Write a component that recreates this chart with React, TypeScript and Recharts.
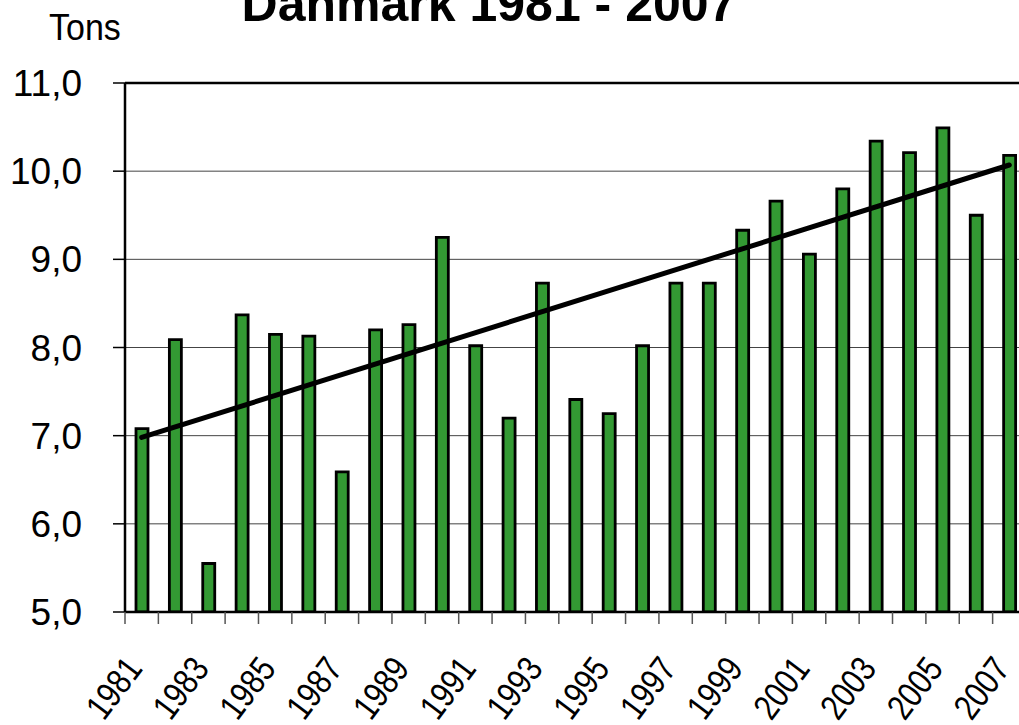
import React from 'react';
import { ComposedChart, Bar, Line, XAxis, YAxis, CartesianGrid, ReferenceLine } from 'recharts';

const years = ['1981','1982','1983','1984','1985','1986','1987','1988','1989','1990','1991','1992','1993','1994','1995','1996','1997','1998','1999','2000','2001','2002','2003','2004','2005','2006','2007'];
const tons = [7.08, 8.09, 5.55, 8.37, 8.15, 8.13, 6.59, 8.2, 8.26, 9.25, 8.02, 7.2, 8.73, 7.41, 7.25, 8.02, 8.73, 8.73, 9.33, 9.66, 9.06, 9.8, 10.34, 10.21, 10.49, 9.5, 10.18];
const trendStart = 6.98;
const trendEnd = 10.07;
const yTicks = [5, 6, 7, 8, 9, 10, 11];
const title = 'Danmark 1981 - 2007';
const unitLabel = 'Tons';

const data = years.map((y, i) => ({
  year: y,
  value: tons[i],
  trend: i === 0 ? trendStart : i === years.length - 1 ? trendEnd : null,
}));

const FONT = '"Liberation Sans", Arial, sans-serif';
const CHART_W = 1030;
const CHART_H = 725;
const Y_W = 125;
const M_RIGHT = 4;
const BAND = (CHART_W - Y_W - M_RIGHT) / years.length;

const XTick = (props: any) => {
  const { x, y, payload } = props;
  const idx = payload.index;
  const bx = x - BAND / 2;
  const ax = x + 2;
  const ay = y + 57;
  return (
    <g>
      <line x1={bx} y1={y} x2={bx} y2={y + 12} stroke="#555" strokeWidth={1.5} />
      {idx % 2 === 0 && (
        <text
          x={0}
          y={0}
          textAnchor="end"
          transform={`translate(${ax}, ${ay}) rotate(-53) scale(0.93, 1.12)`}
          fontSize={32}
          fontFamily={FONT}
          fill="#000"
        >
          {payload.value}
        </text>
      )}
    </g>
  );
};

export default function App() {
  return (
    <div style={{ position: 'absolute', left: 0, top: 0, width: 1019, height: 725, overflow: 'hidden', background: '#fff' }}>
      <ComposedChart
        width={CHART_W}
        height={CHART_H}
        data={data}
        margin={{ top: 83, right: M_RIGHT, bottom: 13, left: 0 }}
        barCategoryGap={0}
      >
        <CartesianGrid vertical={false} stroke="#444" strokeWidth={1} />
        <XAxis
          dataKey="year"
          interval={0}
          tickLine={false}
          tickSize={0}
          tickMargin={0}
          height={100}
          axisLine={{ stroke: '#000', strokeWidth: 2.5 }}
          tick={<XTick />}
        />
        <YAxis
          domain={[5, 11]}
          ticks={yTicks}
          width={Y_W}
          allowDataOverflow
          tickSize={12}
          tickMargin={31}
          tickLine={{ stroke: '#000', strokeWidth: 1.5 }}
          axisLine={{ stroke: '#000', strokeWidth: 2.5 }}
          tickFormatter={(v: number) => v.toFixed(1).replace('.', ',')}
          tick={{ fontSize: 37, fill: '#000', fontFamily: FONT }}
        />
        <ReferenceLine y={11} stroke="#000" strokeWidth={2.5} />
        <Bar dataKey="value" fill="#339933" stroke="#000" strokeWidth={2.8} barSize={12} isAnimationActive={false} />
        <Line
          dataKey="trend"
          stroke="#000"
          strokeWidth={5}
          strokeLinecap="round"
          dot={false}
          connectNulls
          isAnimationActive={false}
        />
      </ComposedChart>
      <svg width={1019} height={725} style={{ position: 'absolute', left: 0, top: 0, pointerEvents: 'none' }}>
        <text x={489} y={21} textAnchor="middle" fontSize={50} fontWeight="bold" fontFamily={FONT} fill="#000">
          {title}
        </text>
        <text x={49} y={40} fontSize={34} fontFamily={FONT} fill="#000" transform="translate(0,40) scale(1,1.1) translate(0,-40)">
          {unitLabel}
        </text>
      </svg>
    </div>
  );
}
